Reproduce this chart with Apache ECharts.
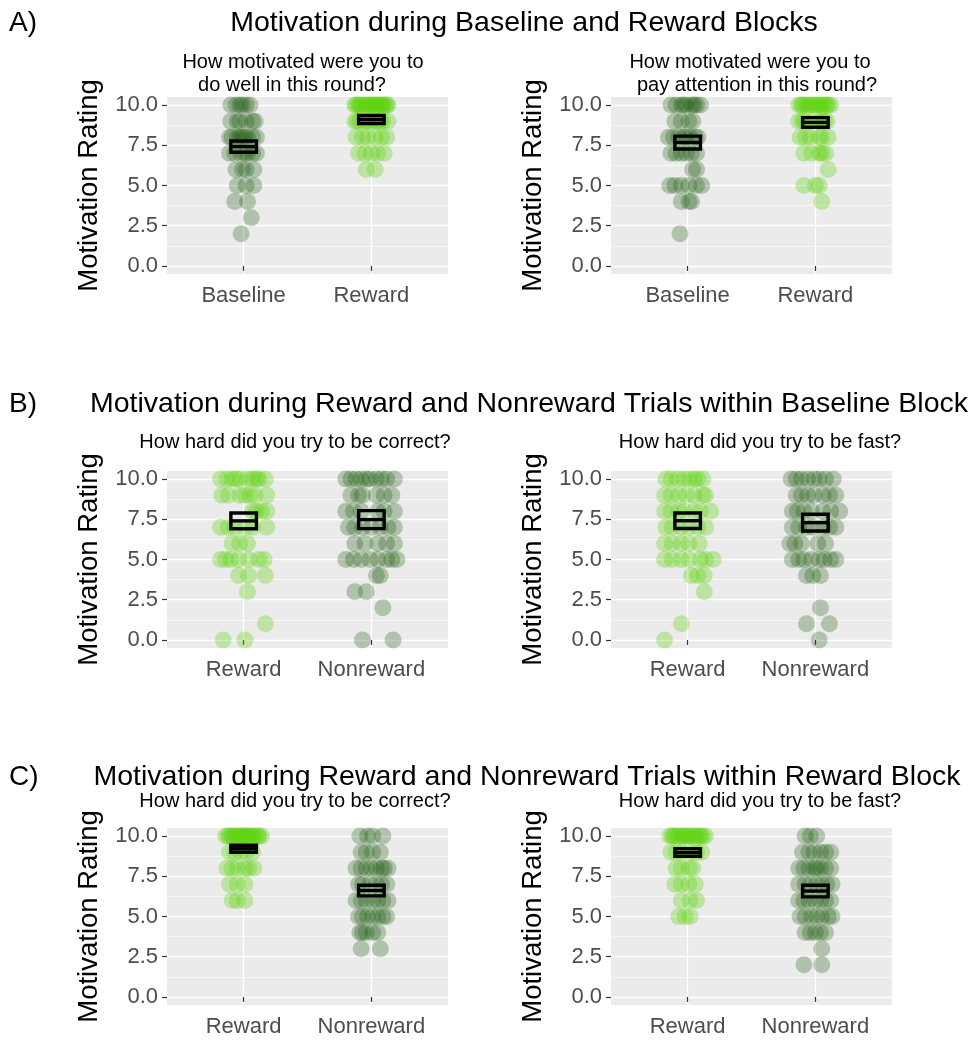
<!DOCTYPE html>
<html><head><meta charset="utf-8">
<script src="https://cdn.jsdelivr.net/npm/echarts@6/dist/echarts.min.js"></script>
<style>html,body{margin:0;padding:0;background:#fff}#c{width:973px;height:1040px}</style>
</head><body><div id="c"></div><script>
// ---------- DATA ----------
const catsA = ['Baseline', 'Reward'];
const catsBC = ['Reward', 'Nonreward'];
const yTicks = [0, 2.5, 5, 7.5, 10];
const yMinor = [1.25, 3.75, 6.25, 8.75];

// each row: [rating, jitter offsets of the individual points...]
const aWellBaseline = [
  [10, -0.10, -0.06, -0.03, -0.01, 0.02, 0.05],
  [9, -0.10, -0.05, -0.03, 0.02, 0.07, 0.09],
  [8, -0.11, -0.09, -0.05, -0.03, -0.01, 0.01, 0.03, 0.07, 0.10],
  [7, -0.11, -0.07, -0.02, 0.01, 0.03, 0.07, 0.10],
  [6, -0.06, -0.01, 0.02, 0.08],
  [5, -0.05, 0.02, 0.08],
  [4, -0.07, 0.03],
  [3, 0.06],
  [2, -0.02]
];
const aWellReward = [
  [10, -0.13, -0.12, -0.10, -0.09, -0.08, -0.06, -0.04, -0.03, -0.01, 0, 0.01, 0.03, 0.04, 0.05, 0.07, 0.08, 0.09, 0.11, 0.12, 0.13],
  [9, -0.13, -0.11, -0.09, -0.05, -0.03, -0.01, 0.03, 0.05, 0.07, 0.09, 0.13],
  [8, -0.12, -0.07, -0.03, 0.03, 0.08, 0.12],
  [7, -0.10, -0.05, 0, 0.05, 0.10],
  [6, -0.04, 0.03]
];
const aAttnBaseline = [
  [10, -0.13, -0.09, -0.05, -0.03, -0.01, 0.03, 0.05, 0.07, 0.10],
  [9, -0.10, -0.05, 0.01, 0.04],
  [8, -0.15, -0.11, -0.07, -0.03, -0.01, 0.02, 0.06, 0.08],
  [7, -0.13, -0.09, -0.05, -0.01, 0.03, 0.07],
  [6, 0.04, 0.07],
  [5, -0.14, -0.10, -0.05, 0.01, 0.07, 0.11],
  [4, -0.05, 0.01, 0.03],
  [2, -0.06]
];
const aAttnReward = [
  [10, -0.13, -0.11, -0.10, -0.08, -0.06, -0.04, -0.02, 0, 0.02, 0.03, 0.05, 0.07, 0.09, 0.10, 0.12],
  [9, -0.13, -0.10, -0.08, -0.03, 0.03, 0.05, 0.07, 0.09],
  [8, -0.12, -0.08, -0.04, 0.03, 0.05, 0.10],
  [7, -0.09, -0.03, 0.03, 0.05, 0.08],
  [6, 0.10],
  [5, -0.09, 0, 0.03],
  [4, 0.05]
];
const bCorrectReward = [
  [10, -0.18, -0.13, -0.09, -0.06, -0.03, 0.03, 0.07, 0.10, 0.12, 0.17],
  [9, -0.17, -0.12, -0.03, 0.01, 0.05, 0.09, 0.18],
  [8, 0.07, 0.10, 0.14, 0.18],
  [7, -0.18, -0.12, -0.07, 0.01, 0.07, 0.18],
  [6, -0.09, -0.03, 0.03],
  [5, -0.18, -0.14, -0.10, -0.04, 0.04, 0.12, 0.16],
  [4, -0.04, 0.04, 0.17],
  [3, 0.03],
  [1, 0.17],
  [0, -0.16, 0.01]
];
const bCorrectNonreward = [
  [10, -0.20, -0.16, -0.12, -0.08, -0.04, -0.01, 0.04, 0.08, 0.12, 0.18],
  [9, -0.16, -0.10, -0.07, 0.04, 0.10, 0.16],
  [8, -0.20, -0.14, -0.08, 0.05, 0.10, 0.18],
  [7, -0.18, -0.13, -0.07, 0, 0.07, 0.13, 0.18],
  [6, -0.13, -0.05, 0.05, 0.12, 0.18],
  [5, -0.20, -0.14, -0.08, -0.01, 0.05, 0.12, 0.16, 0.20],
  [4, 0.04, 0.07],
  [3, -0.13, -0.04],
  [2, 0.09],
  [0, -0.07, 0.17]
];
const bFastReward = [
  [10, -0.17, -0.13, -0.08, -0.03, 0.01, 0.05, 0.08, 0.12],
  [9, -0.18, -0.13, -0.07, -0.01, 0.05, 0.12, 0.14],
  [8, -0.18, -0.13, -0.07, -0.03, 0.05, 0.10, 0.18],
  [7, -0.17, -0.12, -0.05, 0.01, 0.08, 0.14],
  [6, -0.18, -0.12, -0.05, 0.01, 0.09],
  [5, -0.18, -0.12, -0.05, 0.01, 0.10, 0.14, 0.20],
  [4, 0.03, 0.08, 0.13],
  [3, 0.13],
  [1, -0.05],
  [0, -0.18]
];
const bFastNonreward = [
  [10, -0.19, -0.15, -0.11, -0.06, -0.01, 0.03, 0.08, 0.14],
  [9, -0.15, -0.11, -0.06, -0.01, 0.06, 0.11, 0.16],
  [8, -0.18, -0.14, -0.09, -0.03, 0.06, 0.12, 0.19],
  [7, -0.18, -0.13, -0.07, -0.02, 0.06, 0.11, 0.16],
  [6, -0.20, -0.16, -0.11, 0.02, 0.08],
  [5, -0.18, -0.13, -0.09, -0.03, 0.03, 0.07, 0.12, 0.16],
  [4, -0.07, -0.02, 0.04],
  [2, 0.04],
  [1, -0.07, 0.11],
  [0, 0.03]
];
const cCorrectReward = [
  [10, -0.14, -0.12, -0.11, -0.09, -0.08, -0.06, -0.05, -0.03, -0.02, -0.01, 0, 0.02, 0.03, 0.04, 0.06, 0.07, 0.09, 0.11, 0.12, 0.14],
  [9, -0.11, -0.07, -0.02, 0.02, 0.07],
  [8, -0.13, -0.09, -0.05, 0.01, 0.04, 0.08],
  [7, -0.11, -0.05, 0.01],
  [6, -0.09, -0.05, 0.01]
];
const cCorrectNonreward = [
  [10, -0.09, -0.03, 0.01, 0.09],
  [9, -0.08, -0.04, 0.01, 0.07],
  [8, -0.12, -0.08, -0.04, 0, 0.04, 0.08, 0.10, 0.13],
  [7, -0.10, -0.07, -0.01, 0.04, 0.08, 0.12],
  [6, -0.12, -0.08, -0.04, 0.01, 0.05, 0.09, 0.13],
  [5, -0.10, -0.07, -0.03, 0.01, 0.05, 0.09, 0.12],
  [4, -0.09, -0.07, -0.04, 0.01, 0.05],
  [3, -0.08, 0.07]
];
const cFastReward = [
  [10, -0.14, -0.12, -0.11, -0.09, -0.07, -0.05, -0.03, -0.02, 0, 0.01, 0.03, 0.05, 0.07, 0.09, 0.10, 0.12, 0.14],
  [9, -0.13, -0.09, -0.05, 0.02, 0.07, 0.11],
  [8, -0.09, -0.05, 0.01, 0.04],
  [7, -0.10, -0.05, 0.01, 0.06],
  [6, -0.05, 0.02, 0.07],
  [5, -0.07, -0.02, 0.02]
];
const cFastNonreward = [
  [10, -0.08, -0.04, 0.01],
  [9, -0.10, -0.05, -0.01, 0.04, 0.08, 0.12],
  [8, -0.13, -0.09, -0.05, -0.01, 0.01, 0.04, 0.08, 0.12],
  [7, -0.13, -0.08, -0.04, 0.01, 0.05, 0.09, 0.13],
  [6, -0.13, -0.09, -0.05, 0, 0.04, 0.08, 0.12],
  [5, -0.12, -0.08, -0.03, 0.01, 0.05, 0.10, 0.13],
  [4, -0.08, -0.04, 0, 0.04, 0.08],
  [3, 0.05],
  [2, -0.09, 0.05]
];

// mean and standard error per category (crossbars)
const meanAWell = [7.42, 9.10];   const seAWell = [0.35, 0.25];
const meanAAttn = [7.67, 8.92];   const seAAttn = [0.40, 0.30];
const meanBCorrect = [7.40, 7.48]; const seBCorrect = [0.49, 0.56];
const meanBFast = [7.41, 7.29];   const seBFast = [0.48, 0.52];
const meanCCorrect = [9.21, 6.61]; const seCCorrect = [0.22, 0.33];
const meanCFast = [8.98, 6.58];   const seCFast = [0.24, 0.36];

const mainTitles = [
  'Motivation during Baseline and Reward Blocks',
  'Motivation during Reward and Nonreward Trials within Baseline Block',
  'Motivation during Reward and Nonreward Trials within Reward Block'
];
const sectionLabels = ['A)', 'B)', 'C)'];
const subTitles = [
  ['How motivated were you to', 'do well in this round?'],
  ['How motivated were you to', 'pay attention in this round?'],
  ['How hard did you try to be correct?'],
  ['How hard did you try to be fast?'],
  ['How hard did you try to be correct?'],
  ['How hard did you try to be fast?']
];
const yTitle = 'Motivation Rating';

// ---------- STYLE / LAYOUT ----------
const DARK = 'rgba(22,86,8,0.34)';
const LIGHT = 'rgba(92,210,12,0.40)';
const FONT = "'Liberation Sans', Arial, Helvetica, sans-serif";

const panels = [
  {cats: catsA, groups: [aWellBaseline, aWellReward], colors: [DARK, LIGHT], mean: meanAWell, se: seAWell, left: 167, top: 97},
  {cats: catsA, groups: [aAttnBaseline, aAttnReward], colors: [DARK, LIGHT], mean: meanAAttn, se: seAAttn, left: 611, top: 97},
  {cats: catsBC, groups: [bCorrectReward, bCorrectNonreward], colors: [LIGHT, DARK], mean: meanBCorrect, se: seBCorrect, left: 167, top: 471},
  {cats: catsBC, groups: [bFastReward, bFastNonreward], colors: [LIGHT, DARK], mean: meanBFast, se: seBFast, left: 611, top: 471},
  {cats: catsBC, groups: [cCorrectReward, cCorrectNonreward], colors: [LIGHT, DARK], mean: meanCCorrect, se: seCCorrect, left: 167, top: 828},
  {cats: catsBC, groups: [cFastReward, cFastNonreward], colors: [LIGHT, DARK], mean: meanCFast, se: seCFast, left: 611, top: 828}
];
const PW = 281, PH = 177;

function expand(rows, center) {
  const out = [];
  rows.forEach(r => { for (let k = 1; k < r.length; k++) out.push([center + r[k], r[0]]); });
  return out;
}

const grid = [], xAxis = [], yAxis = [], series = [];
panels.forEach((p, i) => {
  grid.push({left: p.left, top: p.top, width: PW, height: PH, show: true, backgroundColor: '#EBEBEB', borderWidth: 0});
  xAxis.push({
    gridIndex: i, type: 'value', min: 0.4, max: 2.6,
    axisLine: {show: false},
    axisTick: {show: true, customValues: [1, 2], length: 5, lineStyle: {color: '#333', width: 1.2}},
    axisLabel: {customValues: [1, 2], formatter: v => p.cats[Math.round(v) - 1], fontSize: 22, color: '#4D4D4D', margin: 11, fontFamily: FONT},
    splitLine: {show: true, lineStyle: {color: '#FFFFFF', width: 1.3}}
  });
  yAxis.push({
    gridIndex: i, type: 'value', min: -0.5, max: 10.5, position: 'left',
    axisLine: {show: false},
    axisTick: {show: true, customValues: yTicks, length: 5, lineStyle: {color: '#333', width: 1.2}},
    axisLabel: {customValues: yTicks, formatter: v => v.toFixed(1), fontSize: 22, color: '#4D4D4D', margin: 9, fontFamily: FONT},
    splitLine: {show: true, lineStyle: {color: '#FFFFFF', width: 1.3}},
    name: yTitle, nameLocation: 'middle', nameGap: 64,
    nameTextStyle: {fontSize: 27.5, color: '#000', fontFamily: FONT}
  });
  yAxis.push({
    gridIndex: i, type: 'value', min: -0.5, max: 10.5, position: 'left',
    axisLine: {show: false},
    axisTick: {show: false, customValues: yMinor},
    axisLabel: {show: false, customValues: yMinor},
    splitLine: {show: true, lineStyle: {color: '#FFFFFF', width: 0.6}}
  });
  p.groups.forEach((g, gi) => {
    series.push({
      type: 'scatter', xAxisIndex: i, yAxisIndex: 2 * i, data: expand(g, gi + 1),
      symbol: 'circle', symbolSize: 17, clip: false, silent: true, z: 2,
      itemStyle: {color: p.colors[gi], borderWidth: 0}
    });
  });
  series.push({
    type: 'custom', xAxisIndex: i, yAxisIndex: 2 * i, silent: true, clip: false, z: 5,
    data: p.mean.map((m, k) => [k + 1, m, p.se[k]]),
    renderItem: function (params, api) {
      const x = api.value(0), m = api.value(1), s = api.value(2);
      const tl = api.coord([x - 0.1, m + s]);
      const br = api.coord([x + 0.1, m - s]);
      const ml = api.coord([x - 0.1, m]);
      const mr = api.coord([x + 0.1, m]);
      return {type: 'group', children: [
        {type: 'rect', shape: {x: tl[0], y: tl[1], width: br[0] - tl[0], height: br[1] - tl[1]},
         style: {fill: 'transparent', stroke: '#000000', lineWidth: 3.4, opacity: 1}},
        {type: 'line', shape: {x1: ml[0], y1: ml[1], x2: mr[0], y2: mr[1]},
         style: {stroke: '#000000', lineWidth: 3.4, opacity: 1}}
      ]};
    }
  });
});

// titles
const graphic = [];
const titleY = [23, 404, 777];
const titleX = [524, 529, 527];
mainTitles.forEach((t, i) => {
  graphic.push({type: 'text', x: 9, y: titleY[i], style: {text: sectionLabels[i], font: '28px ' + FONT, fill: '#000', textAlign: 'left', textVerticalAlign: 'middle'}});
  graphic.push({type: 'text', x: titleX[i], y: titleY[i], style: {text: t, font: '28.5px ' + FONT, fill: '#000', textAlign: 'center', textVerticalAlign: 'middle'}});
});
const subPos = [
  [[303, 62], [292, 85]],
  [[750, 62], [757, 85]],
  [[295, 442]], [[760, 442]],
  [[295, 801]], [[760, 801]]
];
subTitles.forEach((lines, i) => {
  lines.forEach((l, k) => {
    graphic.push({type: 'text', x: subPos[i][k][0], y: subPos[i][k][1], style: {text: l, font: '20px ' + FONT, fill: '#000', textAlign: 'center', textVerticalAlign: 'middle'}});
  });
});

const chart = echarts.init(document.getElementById('c'), null, {renderer: 'canvas'});
chart.setOption({animation: false, backgroundColor: '#fff', grid, xAxis, yAxis, series, graphic});
</script></body></html>
